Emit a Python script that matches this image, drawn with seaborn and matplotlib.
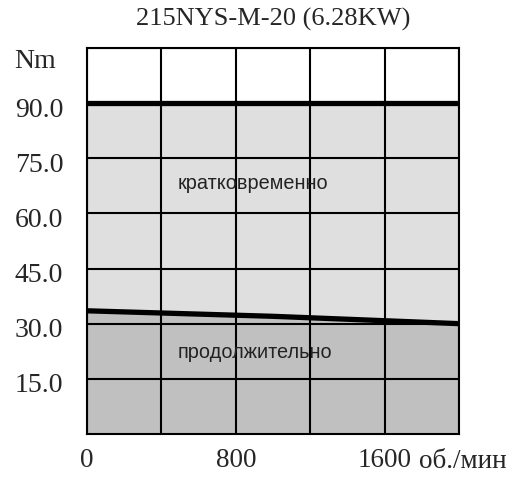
import numpy as np
import pandas as pd
import matplotlib
matplotlib.use('Agg')
import matplotlib.pyplot as plt
import matplotlib.transforms as mtransforms
import seaborn as sns

# Torque curves (rpm -> Nm)
speed = [0, 1000, 2000]
peak_torque = [90.0, 90.0, 90.0]
cont_torque = [33.5, 32.0, 30.0]

x_ticks = [0, 400, 800, 1200, 1600, 2000]
x_labels = ['0', '', '800', '', '1600', '']
y_ticks = [15, 30, 45, 60, 75, 90, 105]
y_labels = ['15.0', '30.0', '45.0', '60.0', '75.0', '90.0', 'Nm']

df = pd.DataFrame({'speed': speed, 'peak': peak_torque, 'cont': cont_torque})

sns.set_style('white')
plt.rcParams['font.family'] = ['Liberation Serif', 'DejaVu Serif']

fig, ax = plt.subplots(figsize=(5.17, 4.8), dpi=100)
fig.subplots_adjust(left=0.168, right=0.888, bottom=0.096, top=0.9)

# Shaded regions
ax.fill_between(df['speed'], 0, df['peak'], color='#dfdfdf', zorder=1, linewidth=0)
ax.fill_between(df['speed'], 0, df['cont'], color='#c0c0c0', zorder=1, linewidth=0)

sns.lineplot(data=df, x='speed', y='peak', color='black', linewidth=3.8, ax=ax, zorder=3)
sns.lineplot(data=df, x='speed', y='cont', color='black', linewidth=3.8, ax=ax, zorder=3)

ax.set_xlim(0, 2000)
ax.set_ylim(0, 105)

ax.set_xticks(x_ticks)
ax.set_xticklabels(x_labels)
ax.set_yticks(y_ticks)
ax.set_yticklabels(y_labels)
ax.grid(True, color='black', linewidth=1.5, zorder=2)
ax.set_axisbelow(False)

ax.tick_params(axis='x', length=0, labelsize=19.5, pad=10)
ax.tick_params(axis='y', length=0, labelsize=20, pad=52)
# y labels sit a bit below their gridlines, "Nm" even more
for lbl in ax.get_yticklabels():
    lbl.set_horizontalalignment('left')
    dy = -10 if lbl.get_text() == 'Nm' else -4
    lbl.set_transform(lbl.get_transform() +
                      mtransforms.ScaledTranslation(0, dy / 100, fig.dpi_scale_trans))
ax.annotate('об./мин', xy=(1600, 0), xycoords='data', xytext=(25, -19.5),
            textcoords='offset points', fontsize=19.5, ha='left', va='center')

for s in ax.spines.values():
    s.set_color('black')
    s.set_linewidth(1.5)
    s.set_zorder(4)

ax.text(895, 68.2, 'кратковременно', fontsize=14.3, ha='center', va='center',
        family=['Liberation Sans', 'DejaVu Sans'], color='#222222', zorder=5)
ax.text(905, 22.1, 'продолжительно', fontsize=14.3, ha='center', va='center',
        family=['Liberation Sans', 'DejaVu Sans'], color='#222222', zorder=5)

ax.set_xlabel('')
ax.set_ylabel('')
ax.set_title('215NYS-M-20 (6.28KW)', fontsize=19, pad=16)

fig.savefig('out.png', dpi=100)
